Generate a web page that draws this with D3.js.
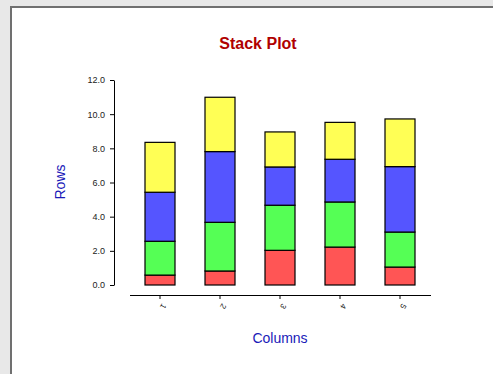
<!DOCTYPE html>
<html>
<head>
<meta charset="utf-8">
<script src="https://cdn.jsdelivr.net/npm/d3@7"></script>
<style>
  html, body { margin: 0; padding: 0; background: #e8e8e8; }
  svg { display: block; }
</style>
</head>
<body>
<svg id="chart" width="493" height="374"></svg>
<script>
// Stack plot data: one array of values per stacked series, bottom to top
const categories = ["1", "2", "3", "4", "5"];
const seriesNames = ["S1", "S2", "S3", "S4"];
const series1 = [0.58, 0.82, 2.03, 2.22, 1.05];
const series2 = [1.98, 2.85, 2.64, 2.64, 2.05];
const series3 = [2.87, 4.14, 2.24, 2.50, 3.83];
const series4 = [2.92, 3.18, 2.05, 2.16, 2.79];
const seriesColors = ["#ff5555", "#55ff55", "#5555ff", "#ffff55"];
const yTicks = [0, 2, 4, 6, 8, 10, 12];

const rows = categories.map((c, i) => ({
  cat: c, S1: series1[i], S2: series2[i], S3: series3[i], S4: series4[i]
}));
const stacked = d3.stack().keys(seriesNames)(rows);

const svg = d3.select("#chart");

// panel
svg.append("rect").attr("x", 0).attr("y", 0).attr("width", 493).attr("height", 374).attr("fill", "#e8e8e8");
svg.append("rect").attr("x", 11).attr("y", 7).attr("width", 490).attr("height", 380)
  .attr("fill", "#ffffff").attr("stroke", "#707070").attr("stroke-width", 2);

const x = d3.scaleBand().domain(categories).range([130, 430]).paddingInner(0.5).paddingOuter(0.25);
const y = d3.scaleLinear().domain([0, 12]).range([285, 80]);

// bars
svg.append("g").selectAll("g").data(stacked).join("g")
  .attr("fill", (d, i) => seriesColors[i])
  .selectAll("rect").data(d => d).join("rect")
  .attr("x", d => x(d.data.cat))
  .attr("width", x.bandwidth())
  .attr("y", d => y(d[1]))
  .attr("height", d => y(d[0]) - y(d[1]))
  .attr("stroke", "#000").attr("stroke-width", 1.2);

// y axis
const yAxis = svg.append("g").attr("transform", "translate(114,0)")
  .call(d3.axisLeft(y).tickValues(yTicks).tickFormat(d3.format(".1f")).tickSize(4).tickSizeOuter(0).tickPadding(5));
yAxis.select(".domain").attr("stroke", "#000");
yAxis.selectAll("text").attr("font-family", "Liberation Sans, Arial, sans-serif").attr("font-size", 9).attr("fill", "#222");

// x axis
const xAxis = svg.append("g").attr("transform", "translate(0,295)")
  .call(d3.axisBottom(x).tickSize(4).tickSizeOuter(0));
xAxis.select(".domain").attr("d", "M130,0.5H431").attr("stroke", "#000");
xAxis.selectAll("text")
  .attr("font-family", "Liberation Sans, Arial, sans-serif").attr("font-size", 8).attr("fill", "#222")
  .attr("text-anchor", "start").attr("dy", 0).attr("y", 0)
  .attr("transform", "translate(2,8) rotate(120)");

// titles
svg.append("text").attr("x", 258).attr("y", 49).attr("text-anchor", "middle")
  .attr("font-family", "Liberation Sans, Arial, sans-serif").attr("font-weight", "bold")
  .attr("font-size", 16).attr("fill", "#b00000").text("Stack Plot");

svg.append("text").attr("x", 280).attr("y", 343).attr("text-anchor", "middle")
  .attr("font-family", "Liberation Sans, Arial, sans-serif")
  .attr("font-size", 14).attr("fill", "#1a1ab8").text("Columns");

svg.append("text").attr("transform", "translate(65,182) rotate(-90)").attr("text-anchor", "middle")
  .attr("font-family", "Liberation Sans, Arial, sans-serif")
  .attr("font-size", 14).attr("fill", "#1a1ab8").text("Rows");
</script>
</body>
</html>
